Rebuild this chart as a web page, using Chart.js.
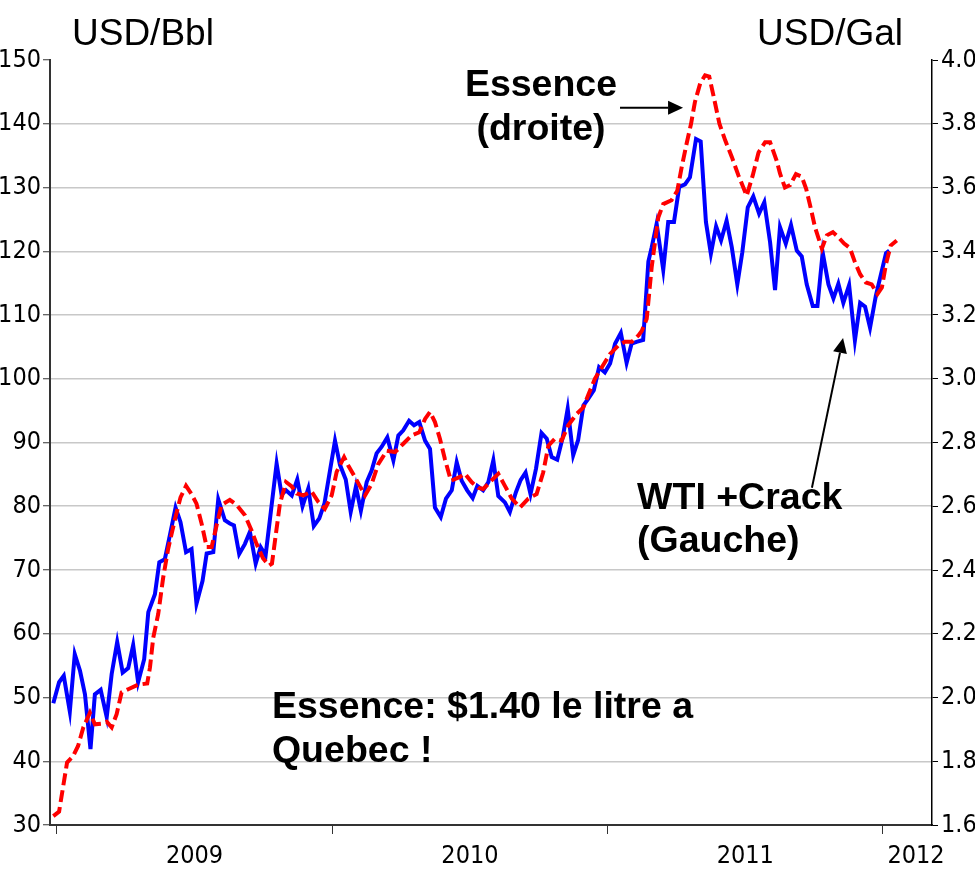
<!DOCTYPE html>
<html>
<head>
<meta charset="utf-8">
<title>WTI + Crack vs Essence</title>
<script src="https://cdn.jsdelivr.net/npm/chart.js@4.4.1/dist/chart.umd.min.js"></script>
<style>
  html, body { margin: 0; padding: 0; background: #ffffff; }
  #wrap { width: 975px; height: 870px; }
</style>
</head>
<body>
<div id="wrap"><canvas id="crackChart" width="975" height="870"></canvas></div>
<script>
// WTI + crack spread, USD/Bbl (left axis) - weekly
const blueDates = [2008.987, 2009.008, 2009.025, 2009.047, 2009.065, 2009.084, 2009.102, 2009.122, 2009.138, 2009.159,
  2009.181, 2009.199, 2009.219, 2009.239, 2009.259, 2009.277, 2009.295, 2009.317, 2009.332, 2009.356,
  2009.372, 2009.392, 2009.410, 2009.431, 2009.449, 2009.469, 2009.489, 2009.507, 2009.529, 2009.544,
  2009.568, 2009.586, 2009.610, 2009.628, 2009.643, 2009.662, 2009.683, 2009.701, 2009.722, 2009.740,
  2009.758, 2009.798, 2009.816, 2009.832, 2009.853, 2009.873, 2009.892, 2009.913, 2009.933, 2009.953,
  2009.972, 2010.010, 2010.028, 2010.049, 2010.067, 2010.086, 2010.104, 2010.125, 2010.143, 2010.161,
  2010.179, 2010.200, 2010.222, 2010.240, 2010.258, 2010.279, 2010.297, 2010.316, 2010.337, 2010.355,
  2010.373, 2010.394, 2010.413, 2010.434, 2010.452, 2010.470, 2010.490, 2010.510, 2010.527, 2010.548,
  2010.567, 2010.585, 2010.603, 2010.627, 2010.645, 2010.667, 2010.684, 2010.702, 2010.720, 2010.740,
  2010.760, 2010.779, 2010.797, 2010.817, 2010.837, 2010.855, 2010.875, 2010.893, 2010.912, 2010.930,
  2010.950, 2010.969, 2010.990, 2011.009, 2011.027, 2011.048, 2011.069, 2011.087, 2011.105, 2011.129,
  2011.148, 2011.160, 2011.178, 2011.202, 2011.220, 2011.241, 2011.260, 2011.281, 2011.299, 2011.321,
  2011.338, 2011.357, 2011.375, 2011.394, 2011.412, 2011.432, 2011.451, 2011.471, 2011.489, 2011.509,
  2011.529, 2011.550, 2011.569, 2011.590, 2011.608, 2011.626, 2011.647, 2011.666, 2011.687, 2011.705,
  2011.723, 2011.745, 2011.762, 2011.781, 2011.802, 2011.820, 2011.838, 2011.856, 2011.877, 2011.898,
  2011.917, 2011.935, 2011.953, 2011.974, 2012.011, 2012.023];
const blueValues = [49.1, 52.4, 53.4, 47.8, 56.8, 54.2, 50.5, 41.9, 50.5, 51.2,
  46.9, 53.7, 58.7, 53.9, 54.6, 58.2, 52.4, 56.0, 63.4, 66.2,
  71.2, 71.7, 75.4, 79.8, 77.5, 72.8, 73.3, 64.7, 68.3, 72.6,
  72.8, 81.1, 77.8, 77.3, 77.0, 72.5, 74.1, 76.0, 71.0, 73.6,
  72.3, 86.7, 81.8, 82.5, 81.7, 84.2, 80.0, 82.8, 76.9, 78.1,
  80.5, 90.3, 86.5, 84.2, 79.1, 83.1, 79.3, 83.8, 85.6, 88.3,
  89.3, 90.8, 87.2, 91.1, 91.9, 93.4, 92.7, 93.2, 90.3, 89.0,
  79.8, 78.3, 81.2, 82.5, 86.9, 84.0, 82.5, 81.3, 83.2, 82.5,
  83.8, 87.2, 81.6, 80.6, 79.1, 82.2, 84.1, 85.3, 81.9, 85.9,
  91.5, 90.6, 87.7, 87.3, 90.8, 95.3, 88.0, 90.4, 95.8, 96.9,
  98.2, 101.8, 101.0, 102.4, 105.5, 107.2, 102.5, 105.5, 105.8, 106.1,
  118.4, 120.6, 124.3, 117.1, 124.6, 124.6, 130.1, 130.5, 131.6, 137.6,
  137.2, 124.6, 119.6, 123.9, 121.7, 124.8, 120.6, 114.8, 119.8, 126.9,
  128.6, 125.9, 127.7, 121.4, 113.9, 123.8, 121.2, 124.1, 120.1, 119.2,
  114.8, 111.4, 111.4, 119.8, 114.8, 112.6, 114.9, 111.9, 114.7, 106.0,
  111.9, 111.3, 108.0, 113.0, 119.7, 120.1];

// Essence (gasoline), USD/Gal (right axis)
const redDates = [2008.987, 2009.008, 2009.023, 2009.037, 2009.059, 2009.077, 2009.096, 2009.120, 2009.138, 2009.162,
  2009.181, 2009.199, 2009.217, 2009.235, 2009.259, 2009.295, 2009.328, 2009.338, 2009.350, 2009.368,
  2009.386, 2009.404, 2009.429, 2009.449, 2009.469, 2009.489, 2009.507, 2009.526, 2009.544, 2009.562,
  2009.580, 2009.598, 2009.628, 2009.653, 2009.683, 2009.707, 2009.725, 2009.749, 2009.771, 2009.781,
  2009.810, 2009.832, 2009.853, 2009.871, 2009.895, 2009.925, 2009.949, 2009.973, 2009.998, 2010.016,
  2010.043, 2010.058, 2010.082, 2010.119, 2010.143, 2010.167, 2010.198, 2010.228, 2010.258, 2010.288,
  2010.316, 2010.337, 2010.355, 2010.373, 2010.391, 2010.409, 2010.431, 2010.464, 2010.482, 2010.506,
  2010.530, 2010.548, 2010.573, 2010.603, 2010.627, 2010.652, 2010.682, 2010.712, 2010.742, 2010.766,
  2010.785, 2010.809, 2010.833, 2010.857, 2010.888, 2010.912, 2010.930, 2010.954, 2010.979, 2011.009,
  2011.039, 2011.063, 2011.088, 2011.112, 2011.124, 2011.142, 2011.160, 2011.184, 2011.202, 2011.232,
  2011.253, 2011.269, 2011.287, 2011.303, 2011.317, 2011.336, 2011.354, 2011.369, 2011.384, 2011.406,
  2011.427, 2011.451, 2011.475, 2011.505, 2011.527, 2011.548, 2011.572, 2011.590, 2011.614, 2011.626,
  2011.644, 2011.663, 2011.684, 2011.705, 2011.721, 2011.738, 2011.753, 2011.778, 2011.796, 2011.818,
  2011.838, 2011.859, 2011.880, 2011.898, 2011.917, 2011.938, 2011.959, 2011.980, 2011.996, 2012.011,
  2012.028, 2012.050];
const redValues = [1.628, 1.642, 1.722, 1.796, 1.816, 1.848, 1.906, 1.952, 1.916, 1.918,
  1.924, 1.906, 1.948, 2.016, 2.026, 2.040, 2.044, 2.094, 2.188, 2.262,
  2.376, 2.466, 2.560, 2.628, 2.664, 2.638, 2.608, 2.544, 2.472, 2.472,
  2.540, 2.604, 2.620, 2.604, 2.572, 2.524, 2.482, 2.436, 2.414, 2.420,
  2.608, 2.676, 2.662, 2.640, 2.634, 2.646, 2.614, 2.592, 2.634, 2.708,
  2.754, 2.728, 2.692, 2.634, 2.670, 2.732, 2.774, 2.770, 2.796, 2.822,
  2.832, 2.874, 2.896, 2.864, 2.812, 2.748, 2.680, 2.692, 2.702, 2.676,
  2.658, 2.654, 2.676, 2.702, 2.664, 2.624, 2.596, 2.624, 2.638, 2.706,
  2.790, 2.812, 2.806, 2.854, 2.890, 2.910, 2.950, 3.000, 3.036, 3.078,
  3.104, 3.116, 3.116, 3.136, 3.150, 3.188, 3.350, 3.506, 3.548, 3.560,
  3.590, 3.664, 3.738, 3.800, 3.868, 3.926, 3.952, 3.948, 3.890, 3.800,
  3.748, 3.696, 3.638, 3.574, 3.638, 3.710, 3.742, 3.742, 3.684, 3.644,
  3.600, 3.608, 3.642, 3.634, 3.596, 3.534, 3.476, 3.408, 3.450, 3.460,
  3.444, 3.424, 3.410, 3.366, 3.328, 3.302, 3.296, 3.266, 3.286, 3.360,
  3.418, 3.434];

// axis setup
const yearStarts = [2009, 2010, 2011, 2012];
const yearLabelPos = [2009.5, 2010.5, 2011.5, 2012.12];
const yearLabels = ['2009', '2010', '2011', '2012'];
const xMin = 2008.975, xMax = 2012.178;

const tickFont = { family: "'Liberation Sans Narrow', 'Arial Narrow', 'DejaVu Sans Condensed', sans-serif", size: 25 };
const boldFont = "bold 37.5px 'Liberation Sans', Arial, sans-serif";
const titleFont = "37px 'Liberation Sans', Arial, sans-serif";

const toPoints = (xs, ys) => xs.map((x, i) => ({ x: x, y: ys[i] }));

// Text + arrows drawn on top of the chart
const notesPlugin = {
  id: 'notes',
  afterDraw(chart) {
    const c = chart.ctx;
    const x = chart.scales.x, y = chart.scales.y;
    const area = chart.chartArea;
    c.save();
    c.fillStyle = '#000';
    c.textBaseline = 'alphabetic';

    // axis unit titles
    c.font = titleFont;
    c.textAlign = 'left';
    c.fillText('USD/Bbl', area.left + 22, 45);
    c.textAlign = 'right';
    c.fillText('USD/Gal', area.right - 29, 45);

    // annotations
    c.font = boldFont;
    c.textAlign = 'center';
    c.fillText('Essence', x.getPixelForValue(2010.758), y.getPixelForValue(144.4));
    c.fillText('(droite)', x.getPixelForValue(2010.758), y.getPixelForValue(137.4));
    c.textAlign = 'left';
    c.fillText('WTI +Crack', x.getPixelForValue(2011.107), y.getPixelForValue(79.6));
    c.fillText('(Gauche)', x.getPixelForValue(2011.107), y.getPixelForValue(72.8));
    c.fillText('Essence: $1.40 le litre a', x.getPixelForValue(2009.781), y.getPixelForValue(46.8));
    c.fillText('Quebec !', x.getPixelForValue(2009.781), y.getPixelForValue(39.9));

    arrow(c, x.getPixelForValue(2011.045), y.getPixelForValue(142.5),
             x.getPixelForValue(2011.274), y.getPixelForValue(142.5));
    arrow(c, x.getPixelForValue(2011.742), y.getPixelForValue(82.9),
             x.getPixelForValue(2011.855), y.getPixelForValue(106.4));
    c.restore();
  }
};

function arrow(c, x1, y1, x2, y2) {
  const a = Math.atan2(y2 - y1, x2 - x1);
  const len = 15, half = 7;
  c.strokeStyle = '#000';
  c.lineWidth = 2;
  c.beginPath();
  c.moveTo(x1, y1);
  c.lineTo(x2 - len * Math.cos(a), y2 - len * Math.sin(a));
  c.stroke();
  c.beginPath();
  c.moveTo(x2, y2);
  c.lineTo(x2 - len * Math.cos(a) + half * Math.sin(a), y2 - len * Math.sin(a) - half * Math.cos(a));
  c.lineTo(x2 - len * Math.cos(a) - half * Math.sin(a), y2 - len * Math.sin(a) + half * Math.cos(a));
  c.closePath();
  c.fill();
}

const ctx = document.getElementById('crackChart').getContext('2d');
const chart = new Chart(ctx, {
  type: 'line',
  data: {
    datasets: [
      {
        label: 'Essence (droite)',
        data: toPoints(redDates, redValues),
        yAxisID: 'y2',
        borderColor: '#ff0000',
        borderWidth: 4,
        borderDash: [12, 5],
        pointRadius: 0,
        tension: 0,
        order: 0
      },
      {
        label: 'WTI +Crack (Gauche)',
        data: toPoints(blueDates, blueValues),
        yAxisID: 'y',
        borderColor: '#0000ff',
        borderWidth: 4,
        pointRadius: 0,
        tension: 0,
        order: 1
      }
    ]
  },
  options: {
    responsive: false,
    animation: false,
    layout: { padding: { top: 60, left: 0, right: 0, bottom: 0 } },
    plugins: {
      legend: { display: false },
      tooltip: { enabled: false }
    },
    scales: {
      x: {
        type: 'linear',
        position: 'bottom',
        weight: 0,
        min: xMin,
        max: xMax,
        afterBuildTicks: axis => { axis.ticks = yearStarts.map(v => ({ value: v })); },
        afterFit: axis => { axis.height = 10; },
        ticks: { display: false },
        grid: { drawOnChartArea: false, tickLength: 9, tickColor: '#333', tickWidth: 1 },
        border: { color: '#333', width: 2 }
      },
      xLabels: {
        type: 'linear',
        position: 'bottom',
        weight: 1,
        min: xMin,
        max: xMax,
        afterBuildTicks: axis => { axis.ticks = yearLabelPos.map(v => ({ value: v })); },
        afterFit: axis => { axis.height = 35; },
        ticks: {
          color: '#000',
          font: tickFont,
          padding: 6,
          maxRotation: 0,
          autoSkip: false,
          callback: (v, i) => yearLabels[i]
        },
        grid: { display: false, drawTicks: false },
        border: { display: false }
      },
      y: {
        position: 'left',
        min: 30,
        max: 150,
        afterFit: axis => { axis.width = 50; },
        ticks: { stepSize: 10, color: '#000', font: tickFont, padding: 2 },
        grid: {
          color: c => (c.tick.value === 150 || c.tick.value === 30) ? 'rgba(0,0,0,0)' : '#c8c8c8',
          lineWidth: 1.5,
          tickLength: 7,
          tickColor: '#333',
          tickWidth: 1
        },
        border: { color: '#333', width: 2 }
      },
      y2: {
        position: 'right',
        min: 1.6,
        max: 4.0,
        afterFit: axis => { axis.width = 43; },
        ticks: { stepSize: 0.2, color: '#000', font: tickFont, padding: 3, callback: v => v.toFixed(1) },
        grid: { drawOnChartArea: false, tickLength: 6, tickColor: '#000', tickWidth: 1 },
        border: { color: '#000', width: 1.5 }
      }
    }
  },
  plugins: [notesPlugin]
});
</script>
</body>
</html>
